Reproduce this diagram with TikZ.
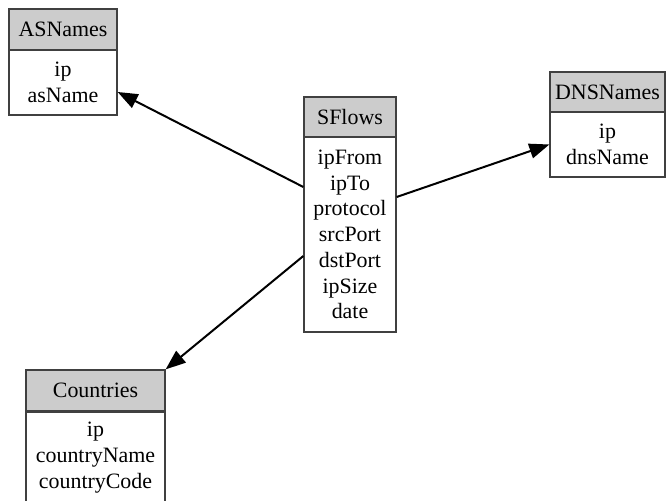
\documentclass[tikz,border=0pt]{standalone}
\usepackage{fontspec}
\setmainfont{Liberation Serif}
\usetikzlibrary{calc, arrows.meta}

\tikzset{
  head/.style={draw=black!75, line width=0.65pt, fill=black!20, inner sep=0pt, align=center},
  body/.style={draw=black!75, line width=0.65pt, fill=white, inner sep=0pt, align=center},
  link/.style={->, line width=1pt}
}

\begin{document}
\begin{tikzpicture}[x=0.5bp, y=-0.5bp, >={Triangle[length=10bp, width=7.5bp]},
  font=\fontsize{11}{12.9}\selectfont]
\useasboundingbox (0,0) rectangle (667,501);
% ASNames
\node[head, minimum width=54bp, minimum height=20.5bp] (ash) at (63,29.5) {ASNames};
\node[body, minimum width=54bp, minimum height=32.5bp] (asb) at (63,82.5) {ip\\asName};
% SFlows
\node[head, minimum width=46bp, minimum height=20bp] (sfh) at (350,117) {SFlows};
\node[body, minimum width=46bp, minimum height=97.5bp] (sfb) at (350,234.5)
  {ipFrom\\ipTo\\protocol\\srcPort\\dstPort\\ipSize\\date};
% DNSNames
\node[head, minimum width=57.5bp, minimum height=20bp] (dnh) at (607.5,92) {DNSNames};
\node[body, minimum width=57.5bp, minimum height=32.5bp] (dnb) at (607.5,144.5) {ip\\dnsName};
% Countries
\node[head, minimum width=69.5bp, minimum height=20.5bp] (cth) at (95.5,390.5) {Countries};
\node[body, minimum width=69.5bp, minimum height=45.5bp, anchor=north] (ctb) at (cth.south)
  {ip\\countryName\\countryCode};

\draw[link] ($(sfb.west)+(0,-47.5)$) -- ($(asb.east)+(0,9.5)$);
\draw[link] ($(sfb.east)+(0,-37.5)$) -- (dnb.west);
\draw[link] ($(sfb.west)+(0,21.5)$) -- (cth.north east);
\end{tikzpicture}
\end{document}
